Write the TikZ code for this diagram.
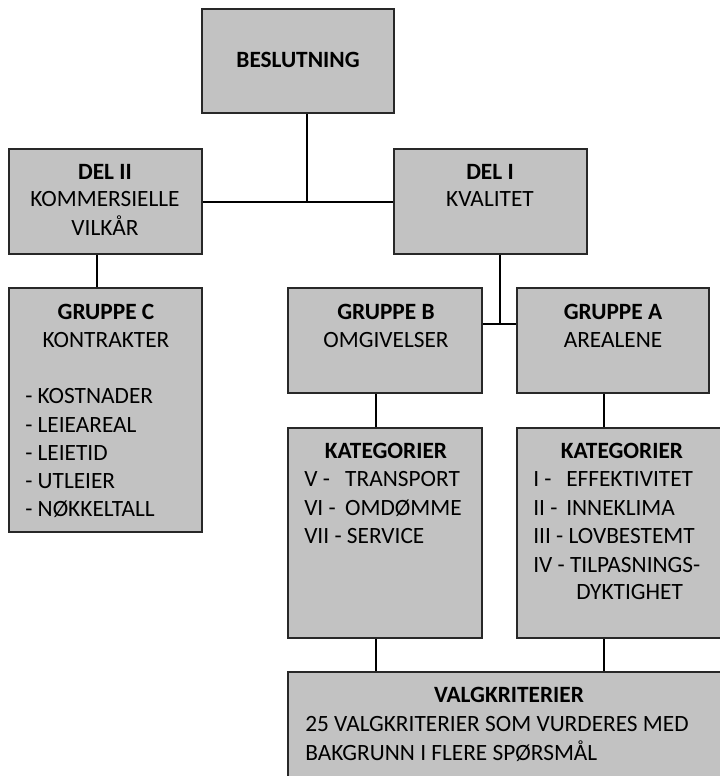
\documentclass[tikz,border=0pt]{standalone}
\usepackage{fontspec}
\setmainfont{Carlito}
\usetikzlibrary{fit}
\definecolor{boxgray}{RGB}{194,194,194}
\definecolor{edgecol}{RGB}{40,40,40}
\begin{document}
\begin{tikzpicture}[x=0.75pt,y=-0.75pt,
  box/.style={draw=edgecol, line width=1.5pt, fill=boxgray, inner sep=0pt, rectangle},
  conn/.style={draw=black, line width=1.5pt},
  txt/.style={font=\fontsize{17.5}{21}\selectfont, inner sep=0pt, anchor=base},
  ttl/.style={txt, font=\fontsize{17.5}{21}\selectfont\bfseries},
  ltxt/.style={txt, anchor=base west}]
\clip (0,0) rectangle (720,776);
\fill[white] (0,0) rectangle (720,776);
% boxes
\node[box, fit={(202,9) (394,113)}] (besl) {};
\node[box, fit={(9,149) (202,254)}] (del2) {};
\node[box, fit={(394,149) (587,254)}] (del1) {};
\node[box, fit={(9,288) (202,532)}] (gc) {};
\node[box, fit={(288,288) (482,393)}] (gb) {};
\node[box, fit={(517,288) (709,393)}] (ga) {};
\node[box, fit={(288,428) (482,638)}] (kb) {};
\node[box, fit={(517,428) (724,638)}] (ka) {};
\node[box, fit={(288,672) (724,800)}] (valg) {};
% junction coordinates
\coordinate (j1) at (307,201);
\coordinate (j2) at (500,324);
\coordinate (j3) at (97,270);
\coordinate (j4) at (376,0);
\coordinate (j5) at (604,0);
% connectors
\draw[conn] (del2.east) -- (del1.west);
\draw[conn] (besl.south -| j1) -- (j1);
\draw[conn] (del1.south -| j2) -- (j2);
\draw[conn] (gb.east |- j2) -- (ga.west |- j2);
\draw[conn] (del2.south -| j3) -- (gc.north -| j3);
\draw[conn] (gb.south -| j4) -- (kb.north -| j4);
\draw[conn] (kb.south -| j4) -- (valg.north -| j4);
\draw[conn] (ga.south -| j5) -- (ka.north -| j5);
\draw[conn] (ka.south -| j5) -- (valg.north -| j5);
% texts
\node[ttl] (t1) at (298,67) {BESLUTNING};
\node[ttl] (t2) at (105,179) {DEL II};
\node[txt] (t3) at (105,206) {KOMMERSIELLE};
\node[txt] (t4) at (105,235) {VILKÅR};
\node[ttl] (t5) at (490,179) {DEL I};
\node[txt] (t6) at (490,206) {KVALITET};
\node[ttl] (t7) at (106,319) {GRUPPE C};
\node[txt] (t8) at (106,347) {KONTRAKTER};
\node[ltxt] (c1) at (25,403) {- KOSTNADER};
\node[ltxt] (c2) at (25,432) {- LEIEAREAL};
\node[ltxt] (c3) at (25,460) {- LEIETID};
\node[ltxt] (c4) at (25,488) {- UTLEIER};
\node[ltxt] (c5) at (25,516) {- NØKKELTALL};
\node[ttl] (t9) at (386,319) {GRUPPE B};
\node[txt] (t10) at (386,347) {OMGIVELSER};
\node[ttl] (t11) at (613,319) {GRUPPE A};
\node[txt] (t12) at (613,347) {AREALENE};
\node[ttl] (t13) at (386,458) {KATEGORIER};
\node[ltxt] (b1) at (304,486) {\makebox[30.75pt][l]{V -}TRANSPORT};
\node[ltxt] (b2) at (304,515) {\makebox[30.75pt][l]{VI -}OMDØMME};
\node[ltxt] (b3) at (304,543) {VII - SERVICE};
\node[ttl] (t14) at (622,458) {KATEGORIER};
\node[ltxt] (a1) at (533,486) {\makebox[24.75pt][l]{I -}EFFEKTIVITET};
\node[ltxt] (a2) at (533,515) {\makebox[24.75pt][l]{II -}INNEKLIMA};
\node[ltxt] (a3) at (533,543) {III - LOVBESTEMT};
\node[ltxt] (a4) at (533,572) {IV - TILPASNINGS-};
\node[ltxt] (a5) at (576,599) {DYKTIGHET};
\node[ttl] (t15) at (509,702) {VALGKRITERIER};
\node[ltxt] (v1) at (305,731) {25 VALGKRITERIER SOM VURDERES MED};
\node[ltxt] (v2) at (305,760) {BAKGRUNN I FLERE SPØRSMÅL};
\end{tikzpicture}
\end{document}
